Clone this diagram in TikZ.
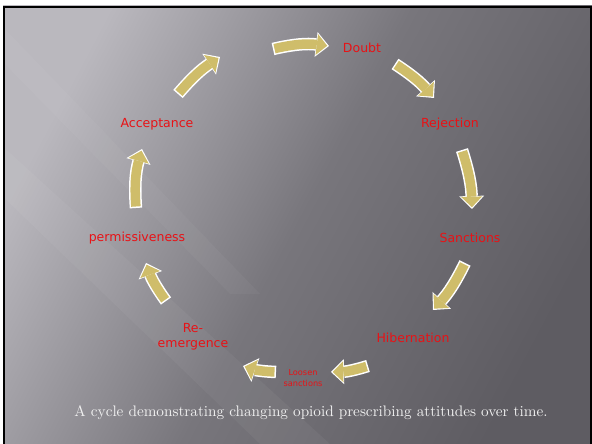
\documentclass[tikz,border=0pt]{standalone}
\usepackage{fontspec}
\newfontfamily\labelfont{DejaVu Sans}
\usetikzlibrary{arrows.meta}
\definecolor{gold}{RGB}{207,189,106}
\definecolor{lblred}{RGB}{232,18,22}
\definecolor{bglight}{RGB}{186,184,190}
\definecolor{bgmid}{RGB}{120,118,124}
\definecolor{bgdark}{RGB}{94,92,98}
\definecolor{captc}{RGB}{240,240,240}
\tikzset{
  lbl/.style={font=\labelfont\fontsize{12.5}{15}\selectfont, text=lblred, align=center, inner sep=0pt},
  smalllbl/.style={font=\labelfont\fontsize{8.2}{10.5}\selectfont, text=lblred, align=center, inner sep=0pt},
  arrW/.style={line width=12.5pt, white, -{Triangle[width=25pt,length=13pt,line width=0pt]}},
  arrG/.style={line width=9.5pt, gold, shorten >=1.8pt, shorten <=1.5pt, -{Triangle[width=21pt,length=10.5pt,line width=0pt]}},
}
\newcommand{\cyclearrow}[3]{%
  \draw[arrW] (#1) to[bend left=#3] (#2);
  \draw[arrG] (#1) to[bend left=#3] (#2);
}
\begin{document}
\begin{tikzpicture}[x=1pt,y=1pt]
\useasboundingbox (0,0) rectangle (592,444);
\fill[white] (0,0) rectangle (592,444);
% slide background
\shade[shading=axis, left color=bglight, right color=bgdark, middle color=bgmid, shading angle=62] (3,0) rectangle (592,438);
\begin{scope}
\clip (3,0) rectangle (592,438);
\fill[white, opacity=0.045] (0,300) -- (0,250) -- (260,0) -- (330,0) -- cycle;
\fill[white, opacity=0.035] (0,420) -- (0,385) -- (230,150) -- (260,150) -- cycle;
\end{scope}
\draw[black, line width=2.5pt] (4.2,0) -- (4.2,436.8) -- (590.8,436.8) -- (590.8,0);
% labels
\node[lbl] (doubt) at (362,396) {Doubt};
\node[lbl] (rejection) at (450,320) {Rejection};
\node[lbl] (sanctions) at (470,206) {Sanctions};
\node[lbl] (hibernation) at (413,106) {Hibernation};
\node[smalllbl] (loosen) at (303,66) {Loosen\\sanctions};
\node[lbl] (reemergence) at (193,107) {Re-\\emergence};
\node[lbl] (permissiveness) at (137,206) {permissiveness};
\node[lbl] (acceptance) at (157,320) {Acceptance};
% arrow end points
\coordinate (a1s) at (273,395); \coordinate (a1e) at (329,398);
\coordinate (a2s) at (395,380); \coordinate (a2e) at (434,346);
\coordinate (a3s) at (462,294); \coordinate (a3e) at (472,235);
\coordinate (a4s) at (465,181); \coordinate (a4e) at (433,134);
\coordinate (a5s) at (368,78);  \coordinate (a5e) at (331,72);
\coordinate (a6s) at (276,72);  \coordinate (a6e) at (243,78);
\coordinate (a7s) at (166,143); \coordinate (a7e) at (146,181);
\coordinate (a8s) at (136,236); \coordinate (a8e) at (142,295);
\coordinate (a9s) at (178,350); \coordinate (a9e) at (220,387);
\cyclearrow{a1s}{a1e}{10}
\cyclearrow{a2s}{a2e}{8}
\cyclearrow{a3s}{a3e}{8}
\cyclearrow{a4s}{a4e}{8}
\cyclearrow{a5s}{a5e}{8}
\cyclearrow{a6s}{a6e}{8}
\cyclearrow{a7s}{a7e}{8}
\cyclearrow{a8s}{a8e}{10}
\cyclearrow{a9s}{a9e}{8}
% caption
\node[text=captc, inner sep=0pt] (caption) at (311,31) {\resizebox{473pt}{!}{A cycle demonstrating changing opioid prescribing attitudes over time.}};
\end{tikzpicture}
\end{document}
